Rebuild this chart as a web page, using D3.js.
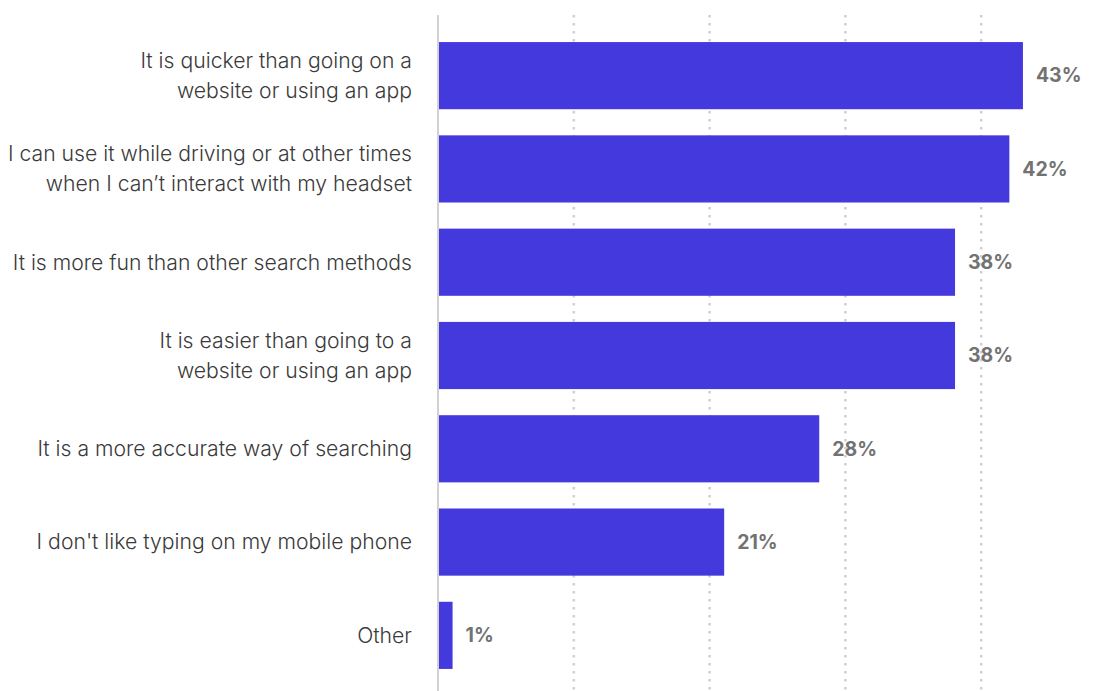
<!DOCTYPE html>
<html>
<head>
<meta charset="utf-8">
<script src="https://cdn.jsdelivr.net/npm/d3@7"></script>
<style>
  body { margin: 0; background: #fff; }
  svg { display: block; font-family: "Inter", "Roboto", sans-serif; }
</style>
</head>
<body>
<div id="chart"></div>
<script>
var categories = [
  ["It is quicker than going on a", "website or using an app"],
  ["I can use it while driving or at other times", "when I can\u2019t interact with my headset"],
  ["It is more fun than other search methods"],
  ["It is easier than going to a", "website or using an app"],
  ["It is a more accurate way of searching"],
  ["I don't like typing on my mobile phone"],
  ["Other"]
];
var values = [43, 42, 38, 38, 28, 21, 1];
var gridTicks = [10, 20, 30, 40];

var width = 1108, height = 691;
var margin = { top: 15, left: 439 };

var svg = d3.select("#chart").append("svg")
  .attr("width", width)
  .attr("height", height);

var x = d3.scaleLinear()
  .domain([0, 10])
  .range([margin.left, margin.left + 135.8]);

var y = d3.scaleBand()
  .domain(d3.range(categories.length))
  .range([29, 682])
  .paddingInner(0.28)
  .paddingOuter(0.14);

// dotted gridlines
svg.append("g")
  .selectAll("line")
  .data(gridTicks)
  .enter()
  .append("line")
  .attr("x1", function (d) { return x(d) - 1; })
  .attr("x2", function (d) { return x(d) - 1; })
  .attr("y1", margin.top)
  .attr("y2", height)
  .attr("stroke", "#cfcfcf")
  .attr("stroke-width", 2.5)
  .attr("stroke-dasharray", "2.5,5.5");

// bars
svg.append("g")
  .selectAll("rect")
  .data(values)
  .enter()
  .append("rect")
  .attr("x", x(0))
  .attr("y", function (d, i) { return y(i); })
  .attr("width", function (d) { return x(d) - x(0); })
  .attr("height", y.bandwidth())
  .attr("fill", "#4439dd");

// axis line
svg.append("line")
  .attr("x1", x(0) - 1)
  .attr("x2", x(0) - 1)
  .attr("y1", margin.top)
  .attr("y2", height)
  .attr("stroke", "#d2d2d2")
  .attr("stroke-width", 2);

// value labels
svg.append("g")
  .selectAll("text")
  .data(values)
  .enter()
  .append("text")
  .attr("x", function (d) { return x(d) + 13; })
  .attr("y", function (d, i) { return y(i) + y.bandwidth() / 2; })
  .attr("dy", "0.35em")
  .attr("font-size", 19.5)
  .attr("font-weight", "bold")
  .attr("fill", "#727272")
  .text(function (d) { return d + "%"; });

// category labels
var lineHeight = 30;
var labels = svg.append("g")
  .selectAll("text")
  .data(categories)
  .enter()
  .append("text")
  .attr("text-anchor", "end")
  .attr("font-size", 21.2)
  .attr("font-weight", 300)
  .attr("fill", "#3a3a3a")
  .attr("y", function (d, i) { return y(i) + y.bandwidth() / 2 - (d.length - 1) * lineHeight / 2; });

labels.selectAll("tspan")
  .data(function (d) { return d; })
  .enter()
  .append("tspan")
  .attr("x", 412)
  .attr("dy", function (d, j) { return j === 0 ? "0.35em" : lineHeight; })
  .text(function (d) { return d; });
</script>
</body>
</html>
